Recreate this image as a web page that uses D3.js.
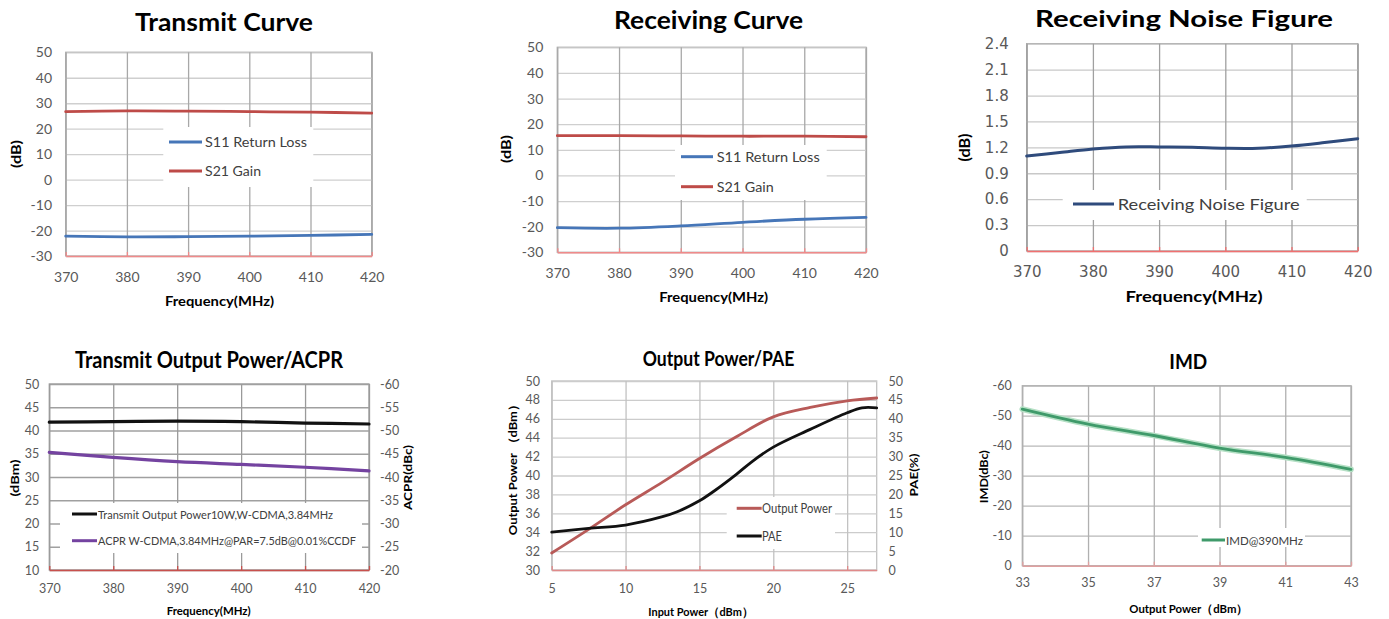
<!DOCTYPE html>
<html><head><meta charset="utf-8">
<script src="https://cdn.jsdelivr.net/npm/d3@7"></script>
<style>
body{margin:0;background:#fff;}
svg{display:block;}
text{font-family:Lato,"Open Sans",sans-serif;}
</style>
</head><body>
<svg id="c" width="1389" height="619"></svg>
<script>
// ---------------- data ----------------
const freq = [370, 380, 390, 400, 410, 420];
const freqTicks = [370, 380, 390, 400, 410, 420];
const dbTicks = [-30, -20, -10, 0, 10, 20, 30, 40, 50];

const txS11 = [-22.2, -22.5, -22.4, -22.2, -21.9, -21.5];
const txS21 = [26.7, 27.0, 26.9, 26.7, 26.5, 26.1];

const rxS11 = [-20.4, -20.6, -19.7, -18.3, -17.1, -16.4];
const rxS21 = [15.5, 15.5, 15.4, 15.3, 15.3, 15.1];

const nfFreq = [370, 375, 380, 385, 390, 395, 400, 405, 410, 415, 420];
const nf = [1.10, 1.14, 1.18, 1.205, 1.205, 1.20, 1.19, 1.19, 1.215, 1.255, 1.30];
const nfTicks = [0, 0.3, 0.6, 0.9, 1.2, 1.5, 1.8, 2.1, 2.4];

const txPower = [41.8, 41.9, 42.0, 41.9, 41.6, 41.4];
const acpr = [-45.3, -44.2, -43.3, -42.7, -42.1, -41.3];
const dbmTicks = [10, 15, 20, 25, 30, 35, 40, 45, 50];
const acprTicks = [-20, -25, -30, -35, -40, -45, -50, -55, -60];

const pinOut = [5, 7.5, 10, 12.5, 15, 17.5, 20, 22.5, 25, 27];
const pout = [31.8, 34.3, 36.9, 39.3, 41.8, 44.1, 46.2, 47.2, 47.9, 48.2];
const pinPae = [5, 7.5, 10, 12.5, 13.5, 15, 16, 17.5, 18.5, 20, 22.5, 25, 26, 27];
const pae = [10.0, 11.0, 11.9, 14.1, 15.4, 18.3, 20.9, 25.3, 28.5, 32.5, 37.2, 41.6, 42.9, 42.9];
const pinTicks = [5, 10, 15, 20, 25];
const poutTicks = [30, 32, 34, 36, 38, 40, 42, 44, 46, 48, 50];
const paeTicks = [0, 5, 10, 15, 20, 25, 30, 35, 40, 45, 50];

const imdPout = [33, 35, 37, 39, 41, 43];
const imd = [-52.2, -47.2, -43.4, -39.2, -36.1, -32.1];
const imdXTicks = [33, 35, 37, 39, 41, 43];
const imdTicks = [0, -10, -20, -30, -40, -50, -60];

// ---------------- drawing ----------------
const svg = d3.select("#c");
const fmt = d => String(d);

function txt(g, s, x, y, o) {
  const t = g.append("text").text(s).attr("x", x).attr("y", y)
    .attr("text-anchor", o.anchor || "start")
    .style("font-size", o.fs + "px")
    .style("font-weight", o.bold ? 700 : 400)
    .attr("fill", o.fill || "#000");
  if (o.font) t.style("font-family", o.font);
  if (o.len) t.attr("textLength", o.len).attr("lengthAdjust", "spacingAndGlyphs");
  return t;
}
function vtxt(g, s, cx, cy, o) {
  const t = g.append("text").text(s)
    .attr("transform", `translate(${cx + o.fs * 0.36},${cy}) rotate(-90)`)
    .attr("text-anchor", "middle")
    .style("font-size", o.fs + "px").style("font-weight", 700).attr("fill", "#000");
  if (o.font) t.style("font-family", o.font);
  if (o.len) t.attr("textLength", o.len).attr("lengthAdjust", "spacingAndGlyphs");
}

function panel(c) {
  const g = svg.append("g");
  const x = d3.scaleLinear().domain(c.xDomain).range([c.L, c.R]);
  const y = d3.scaleLinear().domain(c.yDomain).range([c.B, c.T]);
  // outline
  g.append("rect").attr("x", c.L).attr("y", c.T).attr("width", c.R - c.L).attr("height", c.B - c.T)
    .attr("fill", "none").attr("stroke", c.vGrid).attr("stroke-width", 1.3);
  // horizontal grid + left ticks
  const ya = g.append("g").attr("transform", `translate(${c.L},0)`)
    .call(d3.axisLeft(y).tickValues(c.yTicks).tickSize(-(c.R - c.L)).tickSizeOuter(0).tickPadding(c.yPad).tickFormat(c.yFmt || fmt));
  ya.select(".domain").remove();
  ya.selectAll("line").attr("stroke", c.hGrid).attr("stroke-width", 1.3);
  ya.selectAll("text").attr("fill", "#595959").style("font-size", c.tickFs + "px").style("font-family", c.tickFont || null);
  // vertical grid + bottom ticks
  const xa = g.append("g").attr("transform", `translate(0,${c.B})`)
    .call(d3.axisBottom(x).tickValues(c.xTicks).tickSize(-(c.B - c.T)).tickSizeOuter(0).tickFormat(fmt));
  xa.select(".domain").remove();
  xa.selectAll("line").attr("stroke", c.vGrid).attr("stroke-width", 1.3);
  xa.selectAll("text").attr("dy", null).attr("y", c.xOff).attr("fill", "#595959")
    .style("font-size", c.tickFs + "px").style("font-family", c.tickFont || null);
  // red base axis
  const ba = g.append("g").attr("transform", `translate(0,${c.B})`)
    .call(d3.axisBottom(x).tickValues(c.xTicks).tickSize(-4).tickSizeOuter(0).tickFormat(""));
  ba.select(".domain").attr("stroke", c.base).attr("stroke-width", 1.5);
  ba.selectAll("line").attr("stroke", c.base).attr("stroke-width", 1.3);
  ba.selectAll("text").remove();
  // right axis
  let y2 = null;
  if (c.y2Domain) {
    y2 = d3.scaleLinear().domain(c.y2Domain).range([c.B, c.T]);
    const ra = g.append("g").attr("transform", `translate(${c.R},0)`)
      .call(d3.axisRight(y2).tickValues(c.y2Ticks).tickSize(0).tickPadding(c.y2Pad).tickFormat(fmt));
    ra.select(".domain").remove();
    ra.selectAll("text").attr("fill", "#595959").style("font-size", c.tickFs + "px");
  }
  // title + axis labels
  txt(g, c.title, c.titleX, c.titleY, { anchor: "middle", fs: c.titleFs, bold: true, len: c.titleLen, font: c.titleFont });
  txt(g, c.xLabel, c.xLabX, c.xLabY, { anchor: "middle", fs: c.xLabFs, bold: true, len: c.xLabLen, font: c.labFont });
  vtxt(g, c.yLabel, c.yLabX, c.yLabY, { fs: c.yLabFs, len: c.yLabLen, font: c.labFont });
  if (c.y2Label) vtxt(g, c.y2Label, c.y2LabX, c.y2LabY, { fs: c.yLabFs, len: c.y2LabLen });
  // legend box
  const lg = c.legend;
  g.append("rect").attr("x", lg.x0).attr("y", lg.y0).attr("width", lg.x1 - lg.x0).attr("height", lg.y1 - lg.y0).attr("fill", "#fff");
  // series
  c.series.forEach(s => {
    const ys = s.right ? y2 : y;
    const line = d3.line().x((d, i) => x(s.xs[i])).y(d => ys(d)).curve(d3.curveCatmullRom.alpha(0.5));
    if (s.halo) g.append("path").attr("d", line(s.vals)).attr("fill", "none").attr("stroke", s.halo).attr("stroke-width", s.w + 3).attr("stroke-linecap", "round");
    g.append("path").attr("d", line(s.vals)).attr("fill", "none").attr("stroke", s.color).attr("stroke-width", s.w).attr("stroke-linecap", "round");
  });
  // legend entries
  c.series.forEach((s, i) => {
    const ly = lg.rows[i];
    g.append("line").attr("x1", lg.lx0).attr("x2", lg.lx1).attr("y1", ly).attr("y2", ly)
      .attr("stroke", s.color).attr("stroke-width", lg.lw || 3);
    txt(g, s.name, lg.tx, ly + lg.dy, { fs: lg.fs, fill: "#404040", len: lg.lens[i], font: lg.font });
  });
}

// Panel 1: Transmit Curve
panel({
  L: 65.7, R: 371.7, T: 52.3, B: 256, xDomain: [370, 420], yDomain: [-30, 50],
  xTicks: freqTicks, yTicks: dbTicks, yPad: 13.7, xOff: 26, tickFs: 14,
  hGrid: "#cfcfcf", vGrid: "#a8a8a8", base: "#f08a8a",
  title: "Transmit Curve", titleX: 224, titleY: 31, titleFs: 25, titleLen: 178,
  xLabel: "Frequency(MHz)", xLabX: 219.5, xLabY: 306, xLabFs: 13, xLabLen: 109,
  yLabel: "(dB)", yLabX: 16, yLabY: 154, yLabFs: 13, yLabLen: 28,
  series: [
    { name: "S11 Return Loss", xs: freq, vals: txS11, color: "#4676b8", w: 2.8 },
    { name: "S21 Gain", xs: freq, vals: txS21, color: "#be4b48", w: 2.8 }
  ],
  legend: { x0: 163.3, x1: 313.3, y0: 127, y1: 187, lx0: 169, lx1: 202, tx: 205, rows: [142, 171], dy: 5, fs: 14, lens: [102, 56] }
});

// Panel 2: Receiving Curve
panel({
  L: 557.3, R: 866, T: 47.3, B: 252.3, xDomain: [370, 420], yDomain: [-30, 50],
  xTicks: freqTicks, yTicks: dbTicks, yPad: 14, xOff: 26, tickFs: 14,
  hGrid: "#cfcfcf", vGrid: "#a8a8a8", base: "#f08a8a",
  title: "Receiving Curve", titleX: 708.5, titleY: 29.3, titleFs: 25, titleLen: 189,
  xLabel: "Frequency(MHz)", xLabX: 713.7, xLabY: 302, xLabFs: 13, xLabLen: 109,
  yLabel: "(dB)", yLabX: 506.7, yLabY: 149, yLabFs: 13, yLabLen: 28,
  series: [
    { name: "S11 Return Loss", xs: freq, vals: rxS11, color: "#4676b8", w: 2.8 },
    { name: "S21 Gain", xs: freq, vals: rxS21, color: "#be4b48", w: 2.8 }
  ],
  legend: { x0: 675, x1: 826.7, y0: 145, y1: 200, lx0: 681, lx1: 713, tx: 716.7, rows: [156.7, 186.7], dy: 5.3, fs: 14, lens: [103, 57] }
});

// Panel 3: Receiving Noise Figure
panel({
  L: 1026.7, R: 1357.7, T: 43.7, B: 251, xDomain: [370, 420], yDomain: [0, 2.4],
  xTicks: freqTicks, yTicks: nfTicks, yFmt: d => d === 0 ? "0" : d.toFixed(1),
  yPad: 18, xOff: 26.3, tickFs: 15, tickFont: "DejaVu Sans",
  hGrid: "#c8c8c8", vGrid: "#a0a0a0", base: "#f07070",
  title: "Receiving Noise Figure", titleX: 1184, titleY: 26.7, titleFs: 22, titleLen: 298,
  xLabel: "Frequency(MHz)", xLabX: 1194, xLabY: 301.7, xLabFs: 15, xLabLen: 137,
  yLabel: "(dB)", yLabX: 964.3, yLabY: 147.5, yLabFs: 15, yLabLen: 28,
  series: [
    { name: "Receiving Noise Figure", xs: nfFreq, vals: nf, color: "#2f4b7c", w: 3 }
  ],
  legend: { x0: 1062.7, x1: 1306.7, y0: 190, y1: 220, lx0: 1073, lx1: 1114, tx: 1117.7, rows: [204], dy: 6, fs: 15, lens: [182] }
});

// Panel 4: Transmit Output Power/ACPR
panel({
  L: 49.3, R: 369, T: 384, B: 570, xDomain: [370, 420], yDomain: [10, 50],
  y2Domain: [-20, -60], y2Ticks: acprTicks, y2Pad: 11,
  xTicks: freqTicks, yTicks: dbmTicks, yPad: 10, xOff: 23.3, tickFs: 12.5,
  hGrid: "#a0a0a0", vGrid: "#9a9a9a", base: "#c8504d",
  title: "Transmit Output Power/ACPR", titleX: 209, titleY: 367.7, titleFs: 22, titleLen: 268,
  xLabel: "Frequency(MHz)", xLabX: 208.7, xLabY: 615, xLabFs: 11.5, xLabLen: 84,
  yLabel: "(dBm)", yLabX: 15, yLabY: 478, yLabFs: 12, yLabLen: 37,
  y2Label: "ACPR(dBc)", y2LabX: 408, y2LabY: 477.5, y2LabLen: 65,
  series: [
    { name: "Transmit Output Power10W,W-CDMA,3.84MHz", xs: freq, vals: txPower, color: "#111111", w: 3.2 },
    { name: "ACPR W-CDMA,3.84MHz@PAR=7.5dB@0.01%CCDF", xs: freq, vals: acpr, color: "#7443a0", w: 3.2, right: true }
  ],
  legend: { x0: 60, x1: 362, y0: 503, y1: 553, lx0: 72, lx1: 97, tx: 98, rows: [514, 540.7], dy: 4.5, fs: 12, lens: [235, 258] }
});

// Panel 5: Output Power/PAE
panel({
  L: 551.7, R: 876.7, T: 381, B: 570, xDomain: [5, 27], yDomain: [30, 50],
  y2Domain: [0, 50], y2Ticks: paeTicks, y2Pad: 11.7,
  xTicks: pinTicks, yTicks: poutTicks, yPad: 11.7, xOff: 23.3, tickFs: 12.5,
  hGrid: "#cccccc", vGrid: "#c2c2c2", base: "#e08a8a",
  title: "Output Power/PAE", titleX: 718.5, titleY: 365.7, titleFs: 20, titleLen: 151.6,
  xLabel: "Input Power（dBm）", xLabX: 700.8, xLabY: 616, xLabFs: 11.5, xLabLen: 105,
  yLabel: "Output Power （dBm）", yLabX: 512.7, yLabY: 466.7, yLabFs: 12, yLabLen: 137,
  y2Label: "PAE(%)", y2LabX: 914, y2LabY: 475, y2LabLen: 43,
  series: [
    { name: "Output Power", xs: pinOut, vals: pout, color: "#b85a58", w: 2.8 },
    { name: "PAE", xs: pinPae, vals: pae, color: "#111111", w: 2.8, right: true }
  ],
  legend: { x0: 726.7, x1: 835, y0: 497, y1: 549, lx0: 736.7, lx1: 761.7, tx: 762, rows: [508.3, 536], dy: 4.5, fs: 12.5, lens: [70, 20] }
});

// Panel 6: IMD
panel({
  L: 1022.3, R: 1351, T: 385.7, B: 565.7, xDomain: [33, 43], yDomain: [0, -60],
  xTicks: imdXTicks, yTicks: imdTicks, yPad: 10.6, xOff: 21.6, tickFs: 12.5,
  hGrid: "#b8b8b8", vGrid: "#b0b0b0", base: "#e0a0a0",
  title: "IMD", titleX: 1188.3, titleY: 369.3, titleFs: 21, titleLen: 38,
  xLabel: "Output Power（dBm）", xLabX: 1188.8, xLabY: 613.3, xLabFs: 11.5, xLabLen: 119,
  yLabel: "IMD(dBc)", yLabX: 984, yLabY: 476.7, yLabFs: 11.5, yLabLen: 53,
  series: [
    { name: "IMD@390MHz", xs: imdPout, vals: imd, color: "#3f9a6a", halo: "#b5e0c5", w: 2.8 }
  ],
  legend: { x0: 1198, x1: 1305, y0: 528, y1: 547, lx0: 1201.7, lx1: 1225, tx: 1226, rows: [540], dy: 4.5, fs: 12, lens: [77] }
});
</script>
</body></html>
